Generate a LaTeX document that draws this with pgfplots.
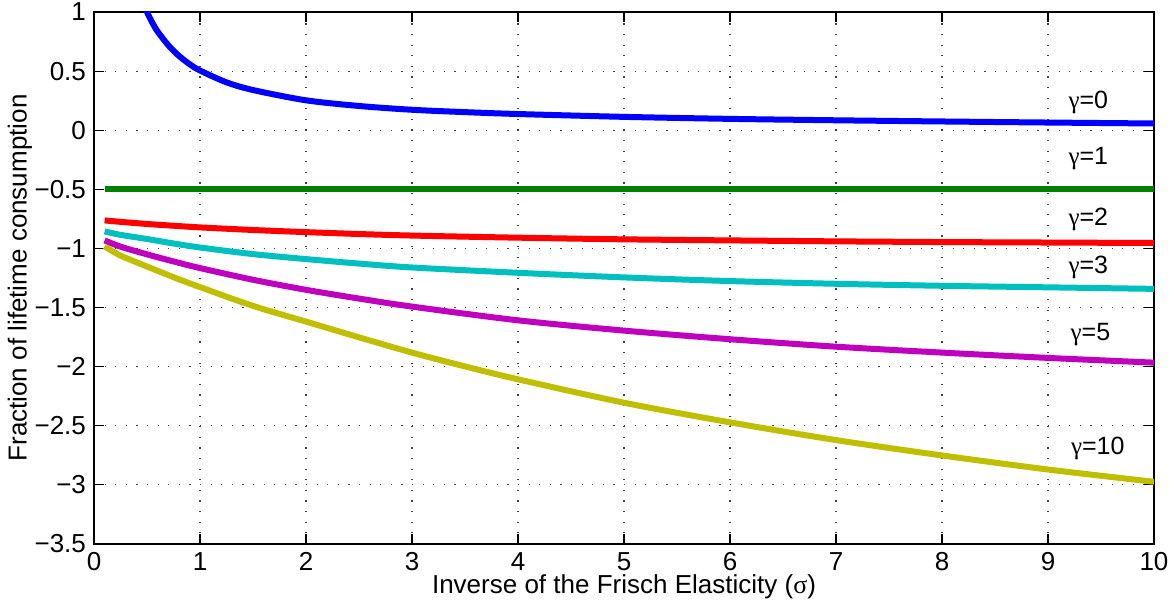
\documentclass[border=0pt]{standalone}
\usepackage{fontspec}
\setmainfont{Liberation Sans}
\newfontfamily\symf{Liberation Serif}
\usepackage{pgfplots}
\pgfplotsset{compat=1.18}
\definecolor{mblue}{rgb}{0,0,1}
\definecolor{mgreen}{rgb}{0,0.5,0}
\definecolor{mred}{rgb}{1,0,0}
\definecolor{mcyan}{rgb}{0,0.75,0.75}
\definecolor{mmag}{rgb}{0.75,0,0.75}
\definecolor{myel}{rgb}{0.75,0.75,0}
\begin{document}
\begin{tikzpicture}
\useasboundingbox (-47pt,-30.5pt) rectangle (540pt,272pt);
\begin{axis}[
  at={(0,0)}, anchor=south west,
  scale only axis, width=530pt, height=266pt,
  xmin=0, xmax=10, ymin=-3.5, ymax=1,
  xtick={0,1,2,3,4,5,6,7,8,9,10},
  ytick={-3.5,-3,-2.5,-2,-1.5,-1,-0.5,0,0.5,1},
  xticklabels={0,1,2,3,4,5,6,7,8,9,10},
  yticklabels={−3.5,−3,−2.5,−2,−1.5,−1,−0.5,0,0.5,1},
  tick align=inside, major tick length=5pt,
  tick style={black, line width=0.6pt},
  axis line style={black, line width=0.8pt},
  grid=major,
  grid style={black!75, line width=0.6pt, dash pattern=on 0.6pt off 4.7pt},
  ticklabel style={font=\fontsize{13}{15}\selectfont},
  yticklabel style={xshift=-0.5pt},
  xticklabel style={inner sep=1pt, yshift=-3pt},
  xlabel={Inverse of the Frisch Elasticity ({\symf σ})},
  ylabel={Fraction of lifetime consumption},
  label style={font=\fontsize{13}{15}\selectfont},
  xlabel style={at={([yshift=-21.5pt]axis description cs:0.5,0)}, anchor=center, inner sep=1pt},
  ylabel style={at={([xshift=-37pt]axis description cs:0,0.5)}, anchor=center},
  clip=true,
]
\addplot[mblue, line width=3pt, smooth] coordinates {
(0.45,1.11)(0.5,1.0)(0.55,0.91)(0.6,0.835)(0.7,0.72)(0.8,0.63)(0.9,0.56)(1,0.505)
(1.25,0.405)(1.5,0.34)(2,0.253)(2.5,0.205)(3,0.173)(3.5,0.153)(4,0.137)(5,0.113)
(6,0.096)(7,0.084)(8,0.074)(9,0.065)(10,0.057)};
\addplot[mgreen, line width=3pt] coordinates {(0.1,-0.5)(10,-0.5)};
\addplot[mred, line width=3pt, smooth] coordinates {
(0.1,-0.763)(0.25,-0.775)(0.5,-0.793)(0.75,-0.808)(1,-0.822)(1.5,-0.844)(2,-0.862)
(2.5,-0.878)(3,-0.891)(4,-0.909)(5,-0.923)(6,-0.932)(7,-0.940)(8,-0.946)(9,-0.950)(10,-0.954)};
\addplot[mcyan, line width=3pt, smooth] coordinates {
(0.1,-0.856)(0.25,-0.885)(0.5,-0.920)(0.75,-0.958)(1,-0.992)(1.5,-1.048)(2,-1.090)
(2.5,-1.128)(3,-1.161)(4,-1.206)(5,-1.245)(6,-1.276)(7,-1.299)(8,-1.316)(9,-1.329)(10,-1.342)};
\addplot[mmag, line width=3pt, smooth] coordinates {
(0.1,-0.932)(0.25,-0.985)(0.5,-1.050)(0.75,-1.110)(1,-1.166)(1.5,-1.265)(2,-1.350)
(2.5,-1.424)(3,-1.492)(4,-1.608)(5,-1.695)(6,-1.768)(7,-1.831)(8,-1.881)(9,-1.926)(10,-1.966)};
\addplot[myel, line width=3pt, smooth] coordinates {
(0.1,-0.983)(0.25,-1.060)(0.5,-1.153)(0.75,-1.243)(1,-1.327)(1.5,-1.486)(2,-1.619)
(2.5,-1.752)(3,-1.881)(3.5,-1.998)(4,-2.107)(5,-2.305)(6,-2.471)(7,-2.621)(8,-2.751)
(9,-2.870)(10,-2.974)};
\begin{scope}[every node/.style={font=\fontsize{12.5}{14}\selectfont, inner sep=0pt}]
\node at (axis cs:9.38,0.235) {{\symf γ}=0};
\node at (axis cs:9.38,-0.24) {{\symf γ}=1};
\node at (axis cs:9.38,-0.757) {{\symf γ}=2};
\node at (axis cs:9.38,-1.164) {{\symf γ}=3};
\node at (axis cs:9.40,-1.731) {{\symf γ}=5};
\node at (axis cs:9.47,-2.693) {{\symf γ}=10};
\end{scope}
\end{axis}
\end{tikzpicture}
\end{document}
